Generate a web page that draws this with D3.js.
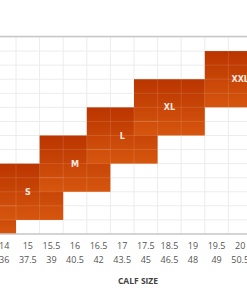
<!DOCTYPE html>
<html>
<head>
<meta charset="utf-8">
<script src="https://cdn.jsdelivr.net/npm/d3@7"></script>
<style>
  body { margin: 0; background: #fff; }
  svg { display: block; }
</style>
</head>
<body>
<div id="chart"></div>
<script>
const width = 247, height = 296;

// calf size in inches / cm (visible part of the table)
const calfIn = ['14', '15', '15.5', '16', '16.5', '17', '17.5', '18.5', '19', '19.5', '20'];
const calfCm = ['36', '37.5', '39', '40.5', '42', '43.5', '45', '46.5', '48', '49', '50.5'];

// each size: first calf column, number of columns, first row, number of rows
const sizes = ['XS', 'S', 'M', 'L', 'XL', 'XXL'];
const sizeFirstCol = [-2, 0, 2, 4, 6, 9];
const sizeCols = [3, 3, 3, 3, 3, 3];
const sizeFirstRow = [11, 9, 7, 5, 3, 1];
const sizeRowsN = [4, 4, 4, 4, 4, 4];
const rowCount = 14;

const x = d3.scaleLinear().domain([0, calfIn.length]).range([-7.6, 252]);
const y = d3.scaleLinear().domain([0, rowCount]).range([37, 234]);

const svg = d3.select('#chart').append('svg')
  .attr('width', width)
  .attr('height', height);

const defs = svg.append('defs');
const grad = defs.append('linearGradient')
  .attr('id', 'blockFill')
  .attr('x1', 0).attr('y1', 0).attr('x2', 0).attr('y2', 1);
grad.append('stop').attr('offset', '0%').attr('stop-color', '#ba3500');
grad.append('stop').attr('offset', '100%').attr('stop-color', '#d6560e');

const cols = d3.range(-3, calfIn.length + 2);
const rows = d3.range(0, rowCount + 1);

// light grid under the blocks
const grid = svg.append('g');
grid.selectAll('.v').data(cols).enter().append('line')
  .attr('x1', d => x(d)).attr('x2', d => x(d))
  .attr('y1', y(0)).attr('y2', y(rowCount))
  .attr('stroke', '#ececec').attr('stroke-width', 1);
grid.selectAll('.h').data(rows).enter().append('line')
  .attr('x1', 0).attr('x2', width)
  .attr('y1', d => y(d)).attr('y2', d => y(d))
  .attr('stroke', '#ececec').attr('stroke-width', 1);

const blocks = sizes.map((s, i) => ({
  size: s,
  c0: sizeFirstCol[i], c1: sizeFirstCol[i] + sizeCols[i],
  r0: sizeFirstRow[i], r1: Math.min(rowCount, sizeFirstRow[i] + sizeRowsN[i])
}));

svg.append('g').selectAll('rect').data(blocks).enter().append('rect')
  .attr('x', d => x(d.c0))
  .attr('y', d => y(d.r0))
  .attr('width', d => x(d.c1) - x(d.c0))
  .attr('height', d => y(d.r1) - y(d.r0))
  .attr('fill', 'url(#blockFill)');

// faint grid lines showing through the blocks
const overGrid = svg.append('g');
blocks.forEach(b => {
  const bc = d3.range(b.c0 + 1, b.c1);
  const br = d3.range(b.r0 + 1, b.r1);
  overGrid.selectAll(null).data(bc).enter().append('line')
    .attr('x1', d => x(d)).attr('x2', d => x(d))
    .attr('y1', y(b.r0)).attr('y2', y(b.r1))
    .attr('stroke', 'rgba(255,255,255,0.12)');
  overGrid.selectAll(null).data(br).enter().append('line')
    .attr('x1', x(b.c0)).attr('x2', x(b.c1))
    .attr('y1', d => y(d)).attr('y2', d => y(d))
    .attr('stroke', 'rgba(255,255,255,0.12)');
});

// size labels (only those whose block centre is on the page)
svg.append('g').selectAll('text')
  .data(blocks.filter(d => x((d.c0 + d.c1) / 2) > 0))
  .enter().append('text')
  .attr('x', d => x((d.c0 + d.c1) / 2))
  .attr('y', d => y((d.r0 + d.r1) / 2) + 3)
  .attr('text-anchor', 'middle')
  .attr('fill', '#fbe9e0')
  .attr('font-family', 'DejaVu Sans')
  .attr('font-weight', 'bold')
  .attr('font-size', 8)
  .text(d => d.size);

// top and bottom rules
svg.append('line')
  .attr('x1', 0).attr('x2', width).attr('y1', y(0) - 0.5).attr('y2', y(0) - 0.5)
  .attr('stroke', '#c8c8c8').attr('stroke-width', 1.5);
svg.append('line')
  .attr('x1', 0).attr('x2', width).attr('y1', y(rowCount)).attr('y2', y(rowCount))
  .attr('stroke', '#c8c8c8').attr('stroke-width', 1.5);

// axes (two label rows)
const xIn = d3.scaleBand().domain(calfIn).range([x(0), x(calfIn.length)]);
const xCm = d3.scaleBand().domain(calfCm).range([x(0), x(calfCm.length)]);

const axIn = svg.append('g')
  .attr('transform', `translate(0,${y(rowCount) + 9})`)
  .call(d3.axisBottom(xIn).tickSize(0).tickPadding(0));
const axCm = svg.append('g')
  .attr('transform', `translate(0,${y(rowCount) + 23})`)
  .call(d3.axisBottom(xCm).tickSize(0).tickPadding(0));
[axIn, axCm].forEach(a => {
  a.select('.domain').remove();
  a.selectAll('text')
    .attr('font-family', 'Open Sans')
    .attr('font-size', 9)
    .attr('fill', '#555');
});

svg.append('text')
  .attr('x', 138)
  .attr('y', 284)
  .attr('text-anchor', 'middle')
  .attr('font-family', 'Open Sans')
  .attr('font-weight', 'bold')
  .attr('font-size', 8.5)
  .attr('fill', '#444')
  .text('CALF SIZE');
</script>
</body>
</html>
